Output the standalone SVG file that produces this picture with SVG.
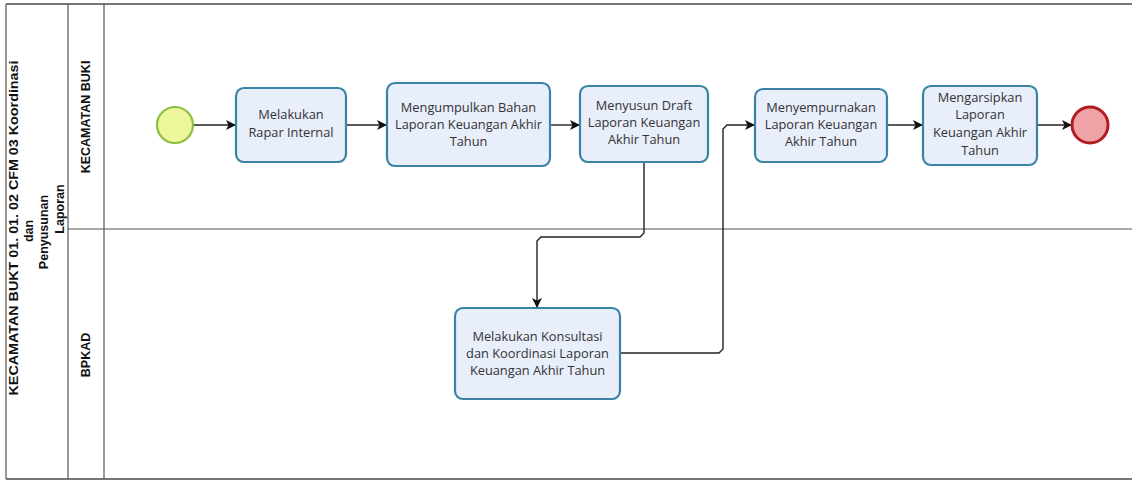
<svg xmlns="http://www.w3.org/2000/svg" width="1132" height="481" viewBox="0 0 1132 481">
<style>
.frame{fill:none;stroke:#555;stroke-width:1.2}
.task{fill:#e8eefa;stroke:#3a83a6;stroke-width:2.2}
.tt{font-family:"Open Sans","Noto Sans",sans-serif;font-size:12.8px;fill:#333;text-anchor:middle}
.lbl{font-family:"Liberation Sans",Arial,sans-serif;font-weight:bold;font-size:12.5px;fill:#111;text-anchor:middle}
.con{fill:none;stroke:#222;stroke-width:1.4}
</style>
<defs>
<marker id="arr" viewBox="0 0 10 10" refX="10" refY="5" markerWidth="10" markerHeight="10" markerUnits="userSpaceOnUse" orient="auto">
<path d="M0,0 L10,5 L0,10 L2.5,5 Z" fill="#111"/>
</marker>
</defs>
<rect width="1132" height="481" fill="#fff"/>
<g id="pool">
<line x1="6" y1="4" x2="1132" y2="4" stroke="#777" stroke-width="2"/>
<line x1="6" y1="479" x2="1132" y2="479" stroke="#777" stroke-width="2"/>
<line x1="6" y1="4" x2="6" y2="479" class="frame"/>
<line x1="68" y1="4" x2="68" y2="479" class="frame"/>
<line x1="104" y1="4" x2="104" y2="479" class="frame"/>
<line x1="68" y1="229" x2="1132" y2="229" class="frame"/>
<text class="lbl" transform="translate(18,228) rotate(-90)" textLength="335" lengthAdjust="spacingAndGlyphs">KECAMATAN BUKT 01. 01. 02 CFM 03 Koordinasi</text>
<text class="lbl" transform="translate(33,231) rotate(-90)">dan</text>
<text class="lbl" transform="translate(48,232) rotate(-90)">Penyusunan</text>
<text class="lbl" transform="translate(64,209) rotate(-90)">Laporan</text>
</g>
<g id="lane-kecamatan"><text class="lbl" transform="translate(90,117) rotate(-90)">KECAMATAN BUKI</text></g>
<g id="lane-bpkad"><text class="lbl" transform="translate(90,355) rotate(-90)">BPKAD</text></g>
<g id="connectors">
<path class="con" d="M193,125 H236" marker-end="url(#arr)"/>
<path class="con" d="M346,125 H387" marker-end="url(#arr)"/>
<path class="con" d="M550,125 H580" marker-end="url(#arr)"/>
<path class="con" d="M644,162 V233 L640,237 H541 L537,241 V308" marker-end="url(#arr)"/>
<path class="con" d="M620,353 H719 L723,349 V129 L727,125 H755" marker-end="url(#arr)"/>
<path class="con" d="M887,125 H923" marker-end="url(#arr)"/>
<path class="con" d="M1037,125 H1072" marker-end="url(#arr)"/>
</g>
<g id="start"><circle cx="175" cy="125" r="18" fill="#ecf69a" stroke="#8cbf40" stroke-width="2.2"/></g>
<g id="task1"><rect class="task" x="236" y="88" width="110" height="74" rx="8"/>
<text class="tt" x="291" y="119">Melakukan</text><text class="tt" x="291" y="137">Rapar Internal</text></g>
<g id="task2"><rect class="task" x="387" y="83" width="163" height="83" rx="8"/>
<text class="tt" x="468.5" y="112">Mengumpulkan Bahan</text><text class="tt" x="468.5" y="129">Laporan Keuangan Akhir</text><text class="tt" x="468.5" y="146">Tahun</text></g>
<g id="task3"><rect class="task" x="580" y="86" width="128" height="76" rx="8"/>
<text class="tt" x="644" y="110">Menyusun Draft</text><text class="tt" x="644" y="127">Laporan Keuangan</text><text class="tt" x="644" y="144">Akhir Tahun</text></g>
<g id="task4"><rect class="task" x="755" y="89" width="132" height="73" rx="8"/>
<text class="tt" x="821" y="112">Menyempurnakan</text><text class="tt" x="821" y="129">Laporan Keuangan</text><text class="tt" x="821" y="146">Akhir Tahun</text></g>
<g id="task5"><rect class="task" x="923" y="86" width="114" height="79" rx="8"/>
<text class="tt" x="980" y="102">Mengarsipkan</text><text class="tt" x="980" y="119">Laporan</text><text class="tt" x="980" y="137">Keuangan Akhir</text><text class="tt" x="980" y="155">Tahun</text></g>
<g id="end"><circle cx="1090" cy="125" r="18" fill="#f0a3a6" stroke="#b01c22" stroke-width="3"/></g>
<g id="task6"><rect class="task" x="455" y="308" width="165" height="91" rx="8"/>
<text class="tt" x="537.5" y="341">Melakukan Konsultasi</text><text class="tt" x="537.5" y="358">dan Koordinasi Laporan</text><text class="tt" x="537.5" y="375">Keuangan Akhir Tahun</text></g>
</svg>
